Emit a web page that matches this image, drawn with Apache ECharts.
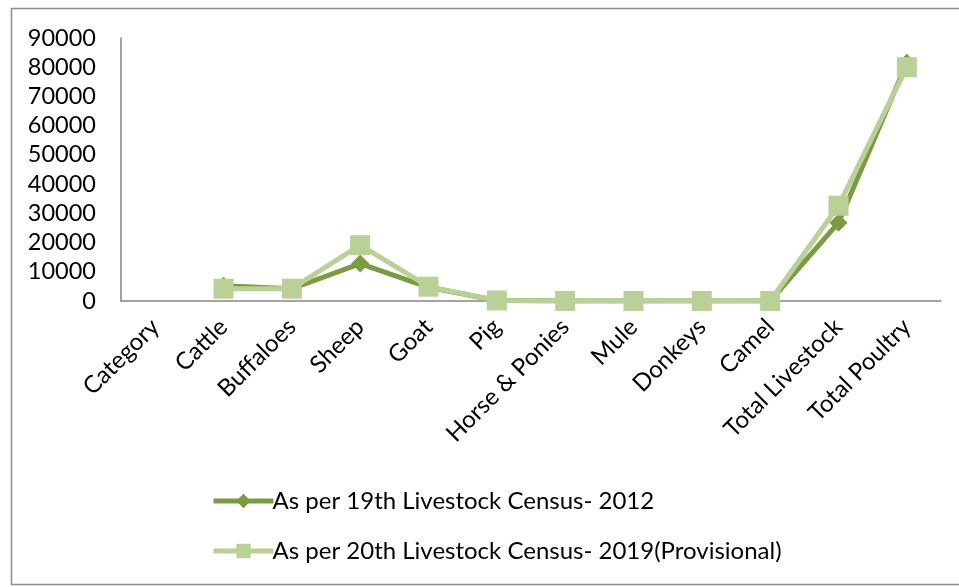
<!DOCTYPE html>
<html>
<head>
<meta charset="utf-8">
<script src="https://cdn.jsdelivr.net/npm/echarts@6/dist/echarts.min.js"></script>
<style>
  html, body { margin: 0; padding: 0; background: #fff; }
  #chart { width: 959px; height: 587px; }
</style>
</head>
<body>
<div id="chart"></div>
<script>
// Livestock population (thousands) by category
const categories = ['Category', 'Cattle', 'Buffaloes', 'Sheep', 'Goat', 'Pig', 'Horse & Ponies', 'Mule', 'Donkeys', 'Camel', 'Total Livestock', 'Total Poultry'];
const census2012 = [null, 5200, 4200, 12800, 4700, 180, 2, 0, 6, 0, 26800, 81500];
const census2019 = [null, 4200, 4200, 19100, 4900, 180, 2, 0, 4, 0, 32600, 80000];
const yTicks = { min: 0, max: 90000, interval: 10000 };

const name2012 = 'As per 19th Livestock Census- 2012';
const name2019 = 'As per 20th Livestock Census- 2019(Provisional)';
const dark = '#7a9c41';
const light = '#b9d096';
const font = 'Lato, "Open Sans", sans-serif';

const chart = echarts.init(document.getElementById('chart'));
chart.setOption({
  animation: false,
  textStyle: { fontFamily: font },
  graphic: [{
    type: 'rect',
    shape: { x: 11.5, y: 8.5, width: 960, height: 576 },
    style: { fill: 'none', stroke: '#8c8c8c', lineWidth: 1.5 },
    silent: true
  }],
  grid: { left: 121, right: 18, top: 38, bottom: 286, containLabel: false },
  xAxis: {
    type: 'category',
    data: categories,
    boundaryGap: true,
    axisLine: { lineStyle: { color: '#868686', width: 1.5 } },
    axisTick: { show: false },
    axisLabel: { rotate: 45, margin: 22, fontSize: 24, color: '#000', fontFamily: font, interval: 0 }
  },
  yAxis: {
    type: 'value',
    min: yTicks.min, max: yTicks.max, interval: yTicks.interval,
    axisLine: { show: true, lineStyle: { color: '#868686', width: 1.5 } },
    axisTick: { show: false },
    splitLine: { show: false },
    axisLabel: { margin: 25, fontSize: 23.5, color: '#000', fontFamily: font, formatter: v => String(v) }
  },
  legend: {
    orient: 'vertical',
    left: 206, top: 484,
    itemGap: 26,
    itemWidth: 60, itemHeight: 18,
    lineStyle: { width: 5 },
    textStyle: { fontSize: 24, color: '#000', fontFamily: font, padding: [0, 0, 0, -6] },
    data: [name2012, name2019]
  },
  series: [
    {
      name: name2012, type: 'line', data: census2012,
      symbol: 'diamond', symbolSize: 18,
      lineStyle: { color: dark, width: 5 },
      itemStyle: { color: dark },
      connectNulls: false
    },
    {
      name: name2019, type: 'line', data: census2019,
      symbol: 'rect', symbolSize: 20,
      lineStyle: { color: light, width: 5 },
      itemStyle: { color: light }
    }
  ]
});
</script>
</body>
</html>
